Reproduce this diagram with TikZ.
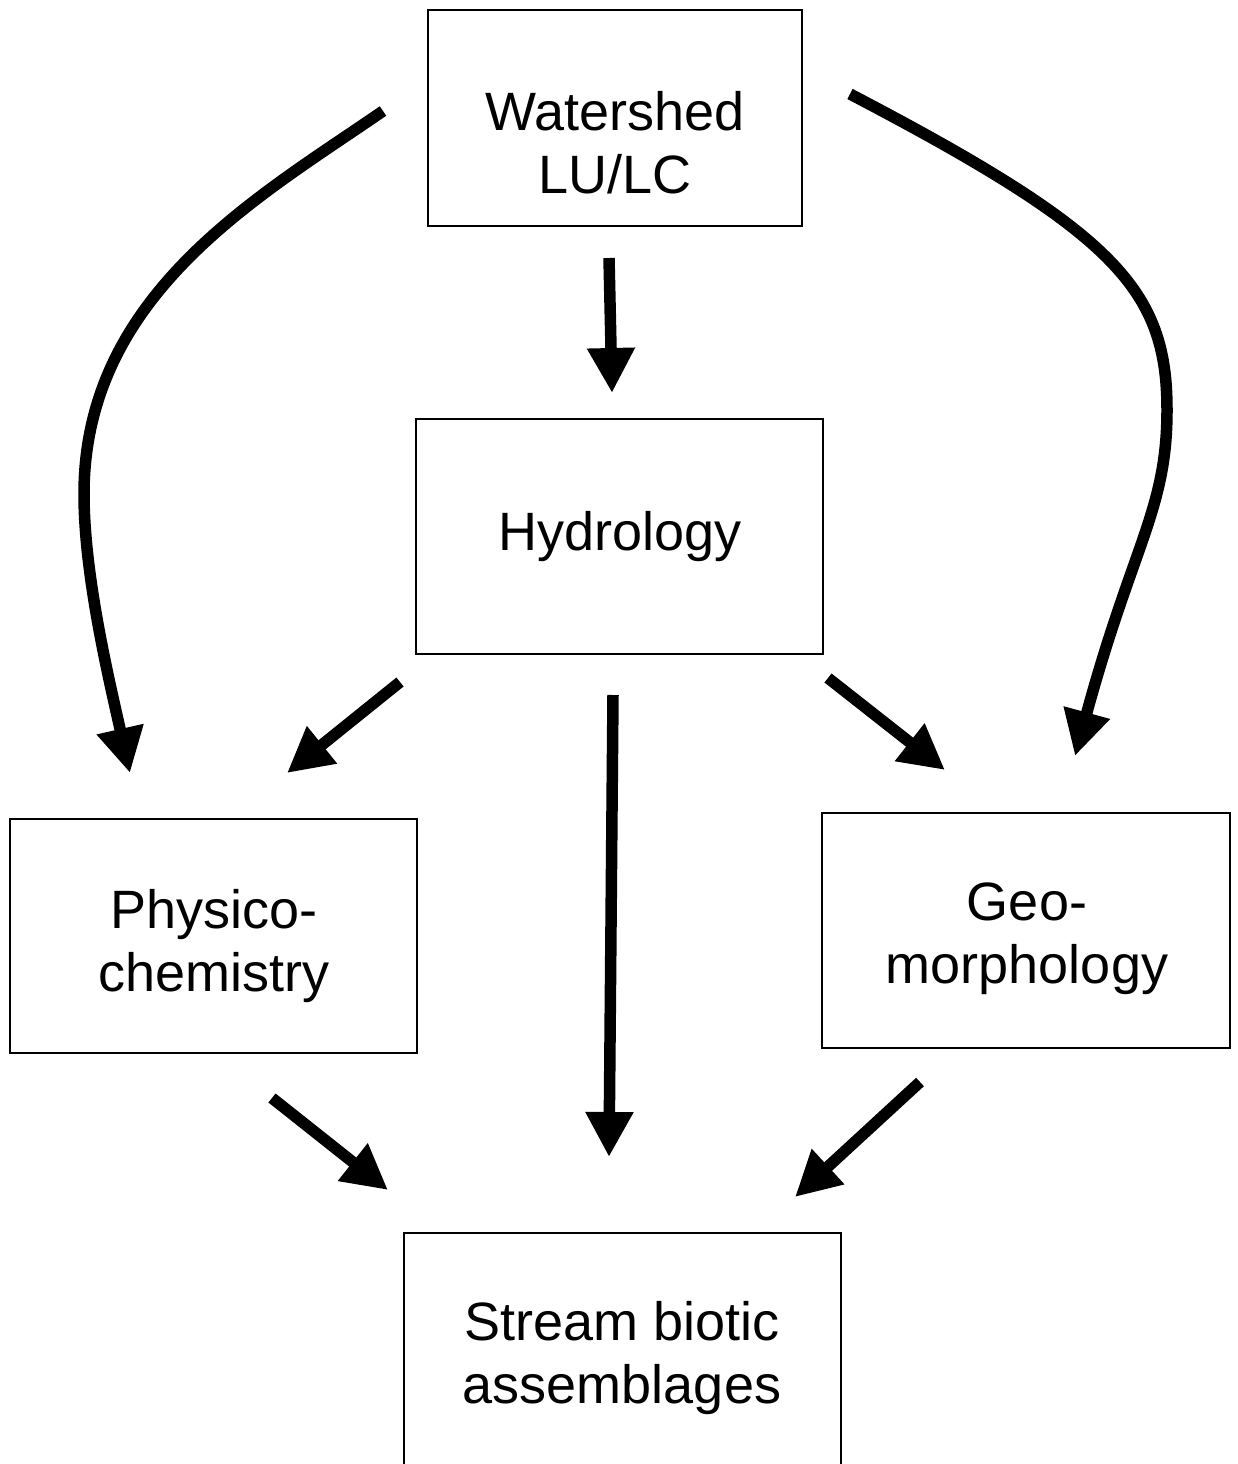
\documentclass[tikz,border=0pt]{standalone}
\usepackage{fontspec}
\setmainfont{Liberation Sans}
\usetikzlibrary{arrows.meta}
\tikzset{
  boxnode/.style={draw=black, line width=1.6pt, inner sep=0pt},
  lbl/.style={anchor=base, inner sep=0pt, font=\fontsize{54}{63}\selectfont},
  flow/.style={line width=11.5pt, line cap=butt, -{Triangle[length=45pt,width=45pt]}}
}
\newcommand{\twolines}[2]{\begin{tabular}[t]{@{}c@{}}#1\\#2\end{tabular}}
\begin{document}
\begin{tikzpicture}[x=1pt,y=-1pt]
\useasboundingbox (0,0) rectangle (1238,1464);
\clip (0,0) rectangle (1238,1464);
\fill[white] (0,0) rectangle (1238,1464);
% boxes
\node[boxnode, minimum width=374pt, minimum height=216pt] (ws) at (615,118) {};
\node[boxnode, minimum width=407pt, minimum height=235pt] (hy) at (619.5,536.5) {};
\node[boxnode, minimum width=407pt, minimum height=234pt] (pc) at (213.5,936) {};
\node[boxnode, minimum width=408pt, minimum height=235pt] (gm) at (1026,930.5) {};
\node[boxnode, minimum width=437pt, minimum height=247pt] (sb) at (622.5,1356.5) {};
% labels
\node[lbl] (wsT) at (615,130) {\twolines{Watershed}{LU/LC}};
\node[lbl] (hyT) at (620,550) {Hydrology};
\node[lbl] (pcT) at (214,928) {\twolines{Physico-}{chemistry}};
\node[lbl] (gmT) at (1027,920) {\twolines{Geo-}{morphology}};
\node[lbl] (sbT) at (622,1340) {\twolines{Stream biotic}{assemblages}};
% arrow end points
\coordinate (a1s) at (609,258);  \coordinate (a1e) at (612,393);
\coordinate (a2s) at (383,111);  \coordinate (a2m) at (84,494);  \coordinate (a2e) at (130,773);
\coordinate (a3s) at (850,94);   \coordinate (a3m) at (1167,410); \coordinate (a3e) at (1075,756);
\coordinate (a4s) at (400,682);  \coordinate (a4e) at (287,773);
\coordinate (a5s) at (613,695);  \coordinate (a5e) at (609,1157);
\coordinate (a6s) at (828,678);  \coordinate (a6e) at (945,770);
\coordinate (a7s) at (272,1098); \coordinate (a7e) at (388,1190);
\coordinate (a8s) at (920,1082); \coordinate (a8e) at (795,1197);
% connectors
\draw[flow] (a1s) -- (a1e);
\draw[flow] (a2s) .. controls (260,196) and (84,294) .. (a2m)
                  .. controls (84,574) and (108,675.5) .. (a2e);
\draw[flow] (a3s) .. controls (1116,233) and (1167,290) .. (a3m)
                  .. controls (1167,510) and (1132.9,543.7) .. (a3e);
\draw[flow] (a4s) -- (a4e);
\draw[flow] (a5s) -- (a5e);
\draw[flow] (a6s) -- (a6e);
\draw[flow] (a7s) -- (a7e);
\draw[flow] (a8s) -- (a8e);
\end{tikzpicture}
\end{document}
